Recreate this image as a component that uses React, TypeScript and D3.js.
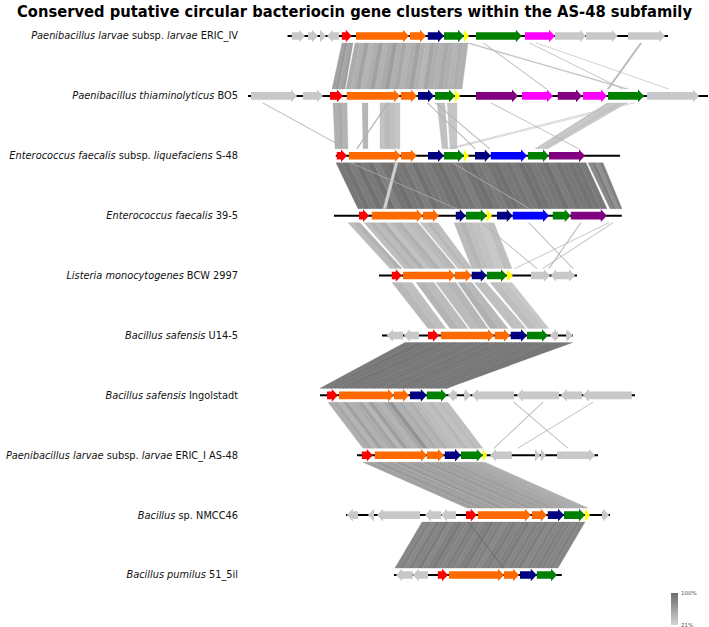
import React from "react";
import * as d3 from "d3";

const W = 709;
const H = 627;
const TITLE = "Conserved putative circular bacteriocin gene clusters within the AS-48 subfamily";

// label segments: [text, italic]
const trackLabels: [string, boolean][][] = [
  [["Paenibacillus larvae", true], [" subsp. ", false], ["larvae", true], [" ERIC_IV", false]],
  [["Paenibacillus thiaminolyticus", true], [" BO5", false]],
  [["Enterococcus faecalis", true], [" subsp. ", false], ["liquefaciens", true], [" S-48", false]],
  [["Enterococcus faecalis", true], [" 39-5", false]],
  [["Listeria monocytogenes", true], [" BCW 2997", false]],
  [["Bacillus safensis", true], [" U14-5", false]],
  [["Bacillus safensis", true], [" Ingolstadt", false]],
  [["Paenibacillus larvae", true], [" subsp. ", false], ["larvae", true], [" ERIC_I AS-48", false]],
  [["Bacillus", true], [" sp. NMCC46", false]],
  [["Bacillus pumilus", true], [" 51_5il", false]],
];

// backbone extent per track (kb)
const trackSpans: [number, number][] = [
  [1.98, 21.0], [0, 23], [4.39, 18.6], [4.3, 18.69], [6.55, 16.45],
  [6.7, 16.25], [3.6, 19.35], [5.45, 17.5], [4.9, 18.1], [7.3, 15.69],
];

// genes: [start kb, end kb, strand, colour key]
type Gene = [number, number, number, string];
const genesEricIV: Gene[] = [
  [2.19, 2.85, 1, "x"], [3.0, 3.5, 1, "x"], [3.6, 3.9, 1, "x"], [3.95, 4.55, -1, "x"],
  [4.69, 5.19, 1, "r"], [5.4, 8.05, 1, "o"], [8.1, 8.9, 1, "o"], [8.99, 9.8, 1, "n"],
  [9.8, 10.8, 1, "g"], [10.8, 11.05, 1, "y"], [11.4, 13.69, 1, "g"], [13.85, 15.35, 1, "m"],
  [15.35, 16.9, 1, "x"], [16.9, 18.49, 1, "x"], [19.0, 20.85, 1, "x"],
];
const genesBO5: Gene[] = [
  [0.15, 2.45, 1, "x"], [2.75, 3.75, 1, "x"], [4.1, 4.75, 1, "r"], [4.94, 7.6, 1, "o"],
  [7.64, 8.45, 1, "o"], [8.5, 9.3, 1, "n"], [9.35, 10.35, 1, "g"], [10.35, 10.6, 1, "y"],
  [11.4, 13.5, 1, "p"], [13.7, 15.25, 1, "m"], [15.49, 16.7, 1, "p"], [16.75, 17.95, 1, "m"],
  [18.0, 19.8, 1, "g"], [19.95, 22.55, 1, "x"],
];
const genesS48: Gene[] = [
  [4.44, 4.95, 1, "r"], [5.05, 7.64, 1, "o"], [7.65, 8.44, 1, "o"], [9.0, 9.8, 1, "n"],
  [9.8, 10.8, 1, "g"], [10.8, 11.04, 1, "y"], [11.35, 12.14, 1, "n"], [12.14, 13.95, 1, "b"],
  [14.0, 15.05, 1, "g"], [15.05, 16.85, 1, "p"],
];
const genes395: Gene[] = [
  [5.55, 6.05, 1, "r"], [6.19, 8.74, 1, "o"], [8.75, 9.55, 1, "o"], [10.39, 10.89, 1, "n"],
  [10.9, 11.94, 1, "g"], [11.94, 12.2, 1, "y"], [12.45, 13.24, 1, "n"], [13.24, 15.05, 1, "b"],
  [15.24, 16.14, 1, "g"], [16.14, 17.94, 1, "p"],
];
const genesBCW: Gene[] = [
  [7.19, 7.69, 1, "r"], [7.75, 10.35, 1, "o"], [10.35, 11.19, 1, "o"], [11.19, 11.94, 1, "n"],
  [11.95, 12.95, 1, "g"], [12.95, 13.24, 1, "y"], [14.15, 15.1, 1, "x"], [15.15, 15.4, -1, "x"],
  [15.4, 16.35, 1, "x"],
];
const genesU145: Gene[] = [
  [6.94, 7.75, -1, "x"], [7.8, 8.55, -1, "x"], [9.0, 9.55, 1, "r"], [9.64, 12.3, 1, "o"],
  [12.34, 13.1, 1, "o"], [13.14, 13.95, 1, "n"], [13.95, 15.0, 1, "g"], [15.1, 15.5, -1, "x"],
  [15.9, 16.24, 1, "x"],
];
const genesIngolstadt: Gene[] = [
  [3.95, 4.49, 1, "r"], [4.55, 7.3, 1, "o"], [7.3, 8.05, 1, "o"], [8.1, 8.94, 1, "n"],
  [8.94, 9.95, 1, "g"], [10.0, 10.44, -1, "x"], [10.8, 11.14, 1, "x"], [11.19, 13.3, -1, "x"],
  [13.44, 15.55, -1, "x"], [15.64, 16.69, -1, "x"], [16.74, 19.19, -1, "x"],
];
const genesEricI: Gene[] = [
  [5.69, 6.24, 1, "r"], [6.34, 8.95, 1, "o"], [8.95, 9.8, 1, "o"], [9.84, 10.65, 1, "n"],
  [10.65, 11.74, 1, "g"], [11.74, 11.95, 1, "y"], [12.1, 13.19, -1, "x"], [14.35, 14.6, 1, "x"],
  [14.64, 14.9, 1, "x"], [15.45, 17.35, 1, "x"],
];
const genesNMCC46: Gene[] = [
  [4.94, 5.5, -1, "x"], [6.0, 6.3, -1, "x"], [6.45, 8.6, -1, "x"], [8.85, 9.65, -1, "x"],
  [9.65, 10.4, -1, "x"], [10.9, 11.44, 1, "r"], [11.49, 14.15, 1, "o"], [14.19, 14.94, 1, "o"],
  [14.99, 15.8, 1, "n"], [15.8, 16.85, 1, "g"], [16.85, 17.1, 1, "y"], [17.7, 18.05, 1, "x"],
];
const genesPumilus: Gene[] = [
  [7.4, 8.24, -1, "x"], [8.24, 9.0, -1, "x"], [9.49, 10.0, 1, "r"], [10.05, 12.8, 1, "o"],
  [12.8, 13.55, 1, "o"], [13.6, 14.44, 1, "n"], [14.44, 15.45, 1, "g"],
];
const trackGenes = [
  genesEricIV, genesBO5, genesS48, genes395, genesBCW,
  genesU145, genesIngolstadt, genesEricI, genesNMCC46, genesPumilus,
];

// links between track i and i+1: [topStart, topEnd, bottomStart, bottomEnd, identity strips (%)]
type Link = [number, number, number, number, number[]];
const links01: Link[] = [
  [4.7, 5.25, 4.2, 4.85, [60, 66, 56, 62]],
  [5.35, 11.0, 4.9, 10.7, [52, 48, 58, 45, 50, 60, 47, 53, 62, 49, 55, 46, 51, 59, 48, 44, 56, 50, 47, 54, 49, 45, 51, 48]],
  [10.9, 11.1, 18.85, 19.05, [36]],
  [11.75, 11.8, 14.9, 14.95, [48]],
  [14.05, 14.1, 18.7, 18.75, [46]],
  [14.4, 14.45, 21.0, 21.05, [44]],
  [19.6, 19.7, 17.95, 18.05, [44]],
];
const links12: Link[] = [
  [4.25, 4.95, 4.35, 5.0, [48, 52, 46]],
  [5.7, 6.0, 5.75, 6.0, [44]],
  [6.6, 7.6, 6.6, 7.6, [34, 40, 36, 32]],
  [6.97, 7.03, 5.42, 5.48, [50]],
  [0.72, 0.78, 4.87, 4.93, [50]],
  [9.45, 9.85, 9.7, 10.0, [36]],
  [9.95, 10.45, 10.1, 10.45, [32]],
  [8.95, 9.01, 11.33, 11.39, [45]],
  [9.35, 9.41, 12.05, 12.11, [45]],
  [18.95, 19.02, 9.93, 10.0, [42]],
  [19.25, 19.32, 10.15, 10.22, [42]],
  [17.95, 18.95, 14.35, 15.0, [34, 30, 36, 32]],
  [12.12, 12.18, 16.5, 16.56, [45]],
];
const links23: Link[] = [
  [4.4, 16.9, 5.5, 17.95, [92, 95, 88, 96, 90, 97, 85, 93, 98, 91, 94, 87, 96, 92, 89, 95, 97, 90, 93, 86, 95, 98, 92, 88, 94, 96, 91, 93, 89, 97, 95, 90, 92, 96, 88, 94, 91, 95, 93, 90]],
  [17.0, 17.75, 18.1, 18.7, [78, 88, 72, 84]],
  [7.35, 7.5, 6.75, 6.9, [25]],
  [5.1, 5.15, 10.4, 10.45, [45]],
  [10.2, 10.25, 14.05, 14.1, [45]],
];
const links34: Link[] = [
  [5.0, 5.6, 7.1, 7.7, [40, 46]],
  [5.8, 8.5, 7.8, 10.4, [38, 45, 40, 50, 35, 42, 48, 36, 40, 44]],
  [8.6, 9.5, 10.5, 11.2, [35, 42, 38]],
  [10.3, 11.2, 11.2, 12.0, [40, 45, 38]],
  [11.2, 12.3, 12.0, 13.2, [35, 30, 38]],
  [11.67, 11.72, 14.42, 14.47, [45]],
  [18.02, 18.07, 13.32, 13.37, [45]],
  [18.22, 18.27, 14.72, 14.77, [45]],
  [14.02, 14.07, 16.22, 16.27, [45]],
  [16.62, 16.67, 15.02, 15.07, [45]],
];
const links45: Link[] = [
  [7.2, 8.2, 9.0, 9.9, [42, 38]],
  [8.4, 9.3, 10.1, 11.0, [45, 40]],
  [9.4, 10.4, 11.1, 12.0, [40, 44]],
  [10.5, 11.2, 12.1, 13.0, [48, 42]],
  [11.3, 11.9, 13.2, 13.9, [36]],
  [12.1, 12.9, 14.0, 14.9, [38, 34]],
  [12.9, 13.2, 14.9, 15.05, [30]],
];
const links56: Link[] = [
  [7.85, 9.0, 3.6, 3.95, [90, 94]],
  [9.0, 15.0, 3.95, 9.95, [94, 97, 92, 96, 98, 93, 95, 97, 91, 96, 94, 98, 95, 92, 97, 96, 93, 95, 98, 94, 96, 92, 97, 95, 93, 96, 94, 97, 95, 93]],
  [15.0, 16.25, 9.85, 9.95, [92]],
];
const links67: Link[] = [
  [4.0, 10.0, 5.75, 11.75, [50, 55, 45, 60, 48, 52, 58, 44, 62, 50, 46, 55, 70, 48, 52, 45, 50, 42, 40, 38, 44, 36, 40, 38]],
  [14.72, 14.77, 12.27, 12.32, [45]],
  [17.22, 17.27, 13.47, 13.52, [45]],
  [13.27, 13.32, 15.97, 16.02, [45]],
];
const links78: Link[] = [
  [5.75, 11.85, 10.95, 17.0, [62, 66, 58, 70, 64, 60, 68, 55, 72, 63, 59, 67, 61, 65, 57, 69, 63, 60, 66, 58, 62, 64, 56, 60, 58, 54, 57, 52, 55, 50]],
];
const links89: Link[] = [
  [8.7, 16.85, 7.35, 15.5, [80, 84, 78, 86, 82, 88, 79, 85, 90, 83, 81, 87, 84, 80, 86, 89, 82, 85, 78, 83, 87, 81, 84, 88, 80, 85, 82, 86, 79, 84, 81, 85, 83, 80, 84, 82]],
  [11.0, 11.04, 12.75, 12.79, [100]],
];
const trackLinks = [links01, links12, links23, links34, links45, links56, links67, links78, links89];

const legendTicks: [number, string][] = [[100, "100%"], [21, "21%"]];

const geneColors: Record<string, string> = {
  r: "#ff0000", o: "#ff6a00", n: "#000080", g: "#008000", y: "#ffff00",
  m: "#ff00ff", p: "#800080", b: "#0000ff", x: "#c8c8c8",
};

function arrowPath(x1: number, x2: number, strand: number, cy: number) {
  const bh = 3.8, hh = 6.3;
  const hl = Math.min(6, x2 - x1);
  if (strand > 0) {
    const xb = x2 - hl;
    return `M${x1},${cy - bh}L${xb},${cy - bh}L${xb},${cy - hh}L${x2},${cy}L${xb},${cy + hh}L${xb},${cy + bh}L${x1},${cy + bh}Z`;
  }
  const xb = x1 + hl;
  return `M${x2},${cy - bh}L${xb},${cy - bh}L${xb},${cy - hh}L${x1},${cy}L${xb},${cy + hh}L${xb},${cy + bh}L${x2},${cy + bh}Z`;
}

export default function App() {
  const x = d3.scaleLinear().domain([0, 23]).range([248, 708]);
  const y = d3.scaleLinear().domain([0, 9]).range([36, 575]);
  const shade = d3.scaleLinear<string>().domain([21, 100]).range(["#d4d4d4", "#6c6c6c"]);
  const legY = d3.scaleLinear().domain([100, 21]).range([593, 625]);

  const linkPolys: JSX.Element[] = [];
  trackLinks.forEach((links, i) => {
    const yt = y(i) + 7;
    const yb = y(i + 1) - 7;
    links.forEach((l, j) => {
      const [a1, a2, b1, b2, ids] = l;
      const n = ids.length;
      ids.forEach((id, k) => {
        const ta = a1 + ((a2 - a1) * k) / n;
        const tb = a1 + ((a2 - a1) * (k + 1)) / n;
        const ba = b1 + ((b2 - b1) * k) / n;
        const bb = b1 + ((b2 - b1) * (k + 1)) / n;
        const c = shade(id);
        linkPolys.push(
          <polygon
            key={`l${i}-${j}-${k}`}
            points={`${x(ta)},${yt} ${x(tb)},${yt} ${x(bb)},${yb} ${x(ba)},${yb}`}
            fill={c}
            stroke={c}
            strokeWidth={n > 1 ? 0.35 : 0.2}
          />
        );
      });
    });
  });

  return (
    <svg width={W} height={H} style={{ position: "absolute", left: 0, top: 0, background: "#fff" }}>
      <rect width={W} height={H} fill="#fff" />
      <text
        x={354.5}
        y={17}
        textAnchor="middle"
        fontFamily="'DejaVu Sans', Verdana, sans-serif"
        fontWeight="bold"
        fontSize={15}
        textLength={675}
        lengthAdjust="spacingAndGlyphs"
        fill="#000"
      >
        {TITLE}
      </text>
      <g>{linkPolys}</g>
      {trackSpans.map((s, i) => (
        <g key={`t${i}`}>
          <line x1={x(s[0])} x2={x(s[1])} y1={y(i)} y2={y(i)} stroke="#000" strokeWidth={2} />
          {trackGenes[i].map((g, k) => (
            <path key={k} d={arrowPath(x(g[0]), x(g[1]), g[2], y(i))} fill={geneColors[g[3]]} />
          ))}
          <text
            x={238}
            y={y(i) + 3.4}
            textAnchor="end"
            fontFamily="'DejaVu Sans', Verdana, sans-serif"
            fontSize={9.8}
            fill="#111"
            style={{ whiteSpace: "pre" }}
          >
            {trackLabels[i].map((seg, k) => (
              <tspan key={k} fontStyle={seg[1] ? "italic" : "normal"}>
                {seg[0]}
              </tspan>
            ))}
          </text>
        </g>
      ))}
      <defs>
        <linearGradient id="legGrad" x1="0" y1="0" x2="0" y2="1">
          <stop offset="0" stopColor={shade(100)} />
          <stop offset="1" stopColor={shade(21)} />
        </linearGradient>
      </defs>
      <rect x={671} y={legY(100)} width={7} height={legY(21) - legY(100)} fill="url(#legGrad)" />
      {legendTicks.map(([v, t]) => (
        <text key={t} x={681} y={legY(v) + 2} fontFamily="'DejaVu Sans', sans-serif" fontSize={5.5} fill="#555">
          {t}
        </text>
      ))}
    </svg>
  );
}
